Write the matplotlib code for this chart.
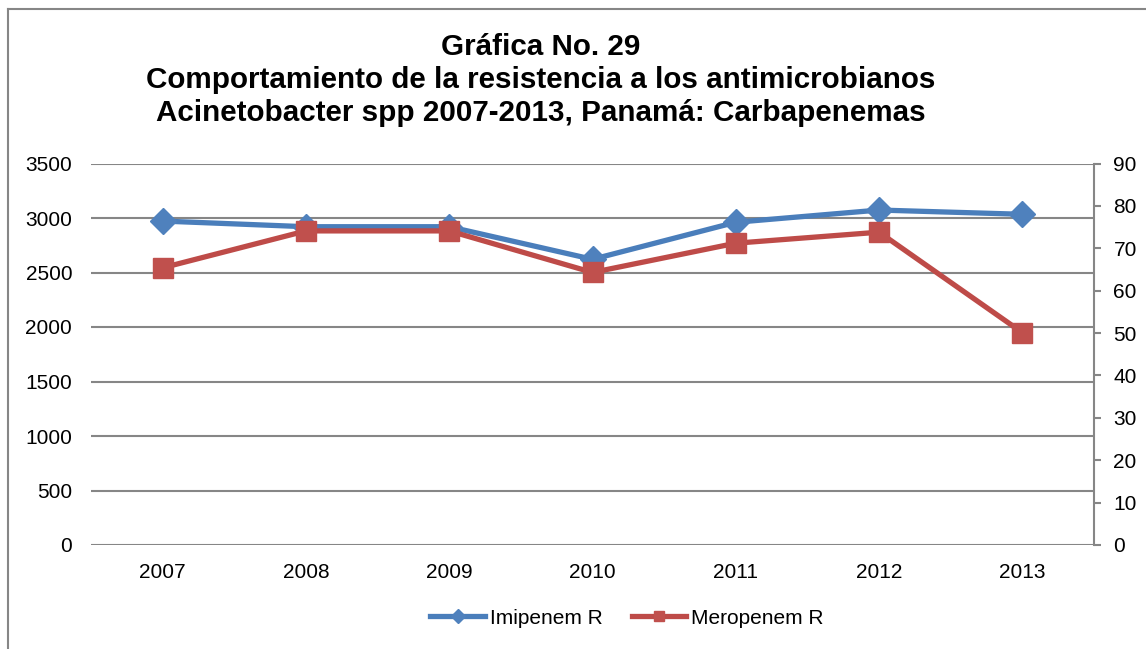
import matplotlib
matplotlib.use("Agg")
import matplotlib.pyplot as plt
from matplotlib.lines import Line2D

years = ["2007", "2008", "2009", "2010", "2011", "2012", "2013"]
imipenem = [2972, 2920, 2920, 2621, 2961, 3073, 3034]      # left axis
meropenem = [65.4, 74.1, 74.1, 64.3, 71.2, 73.8, 50.1]     # right axis
left_ticks = [0, 500, 1000, 1500, 2000, 2500, 3000, 3500]
right_ticks = [0, 10, 20, 30, 40, 50, 60, 70, 80, 90]
title = ("Gráfica No. 29\n"
         "Comportamiento de la resistencia a los antimicrobianos\n"
         "Acinetobacter spp 2007-2013, Panamá: Carbapenemas")

plt.rcParams['font.family'] = ['Liberation Sans', 'DejaVu Sans']

W, H = 1146, 649
fig = plt.figure(figsize=(W / 100, H / 100), dpi=100)
ax = fig.add_axes([91 / W, 1 - 545 / H, (1094 - 91) / W, (545 - 163.5) / H])
ax2 = ax.twinx()

blue_line, blue_mk = "#4A7EBB", "#4F81BD"
red_line, red_mk = "#BE4B48", "#C0504D"
grid_c = "#868686"

x = list(range(len(years)))
ax.plot(x, imipenem, color=blue_line, lw=3.8, marker="D", ms=13,
        mfc=blue_mk, mec=blue_mk, zorder=3, solid_joinstyle="round")
ax2.plot(x, meropenem, color=red_line, lw=3.8, marker="s", ms=14,
         mfc=red_mk, mec=red_mk, zorder=3, solid_joinstyle="round")

ax.set_xlim(-0.5, len(years) - 0.5)
ax.set_ylim(0, 3500)
ax2.set_ylim(0, 90)
ax.set_yticks(left_ticks)
ax2.set_yticks(right_ticks)
ax.set_xticks(x)
ax.set_xticklabels(years)

for a in (ax, ax2):
    for s in a.spines.values():
        s.set_visible(False)
ax2.spines['right'].set_visible(True)
ax2.spines['right'].set_color(grid_c)
ax2.spines['right'].set_linewidth(1.5)

ax.yaxis.grid(True, color=grid_c, lw=1.5)
ax.set_axisbelow(True)
ax.tick_params(axis='y', length=0, pad=13.5, labelsize=15, colors="black")
ax.tick_params(axis='x', length=0, pad=13, labelsize=15, colors="black")
ax2.tick_params(axis='y', length=5, width=1.5, color=grid_c, pad=9,
                labelsize=15, labelcolor="black")

fig.text(541 / W, 1 - 33 / H, title, ha="center", va="top",
         fontsize=21.3, fontweight="bold", linespacing=1.22)

handles = [
    Line2D([], [], color=blue_line, lw=3.8, marker="D", ms=7, mfc=blue_mk, mec=blue_mk),
    Line2D([], [], color=red_line, lw=3.8, marker="s", ms=7.5, mfc=red_mk, mec=red_mk),
]
fig.legend(handles, ["Imipenem R", "Meropenem R"], loc="center",
           bbox_to_anchor=(627 / W, 1 - 618 / H), ncol=2, frameon=False,
           fontsize=15, handlelength=2.6, handletextpad=0.25, columnspacing=1.4)

# outer chart border (left and top visible)
fig.add_artist(Line2D([8 / W, 8 / W], [0, 1 - 9 / H], color="#868686", lw=1.5,
                      transform=fig.transFigure))
fig.add_artist(Line2D([8 / W, 1], [1 - 9 / H, 1 - 9 / H], color="#868686", lw=1.5,
                      transform=fig.transFigure))

fig.savefig("out.png", dpi=100)
